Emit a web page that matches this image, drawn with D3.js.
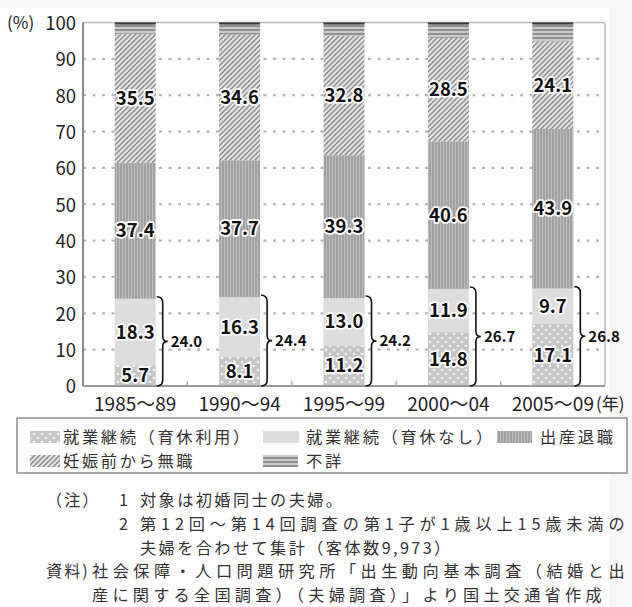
<!DOCTYPE html>
<html lang="ja">
<head>
    <meta charset="UTF-8">
    <title>就業継続</title>
    <script src="https://d3js.org/d3.v7.min.js"></script>
    <style>
        body { margin: 0; background: #ffffff; }
        text { font-family: "Noto Sans CJK JP", sans-serif; }
    </style>
</head>
<body>
    <div id="chart"></div>
    <script>
        // ---- donnees ----
        const periods = ["1985〜89", "1990〜94", "1995〜99", "2000〜04", "2005〜09"];
        const ikukyuRiyou = [5.7, 8.1, 11.2, 14.8, 17.1];      // 就業継続（育休利用）
        const ikukyuNashi = [18.3, 16.3, 13.0, 11.9, 9.7];     // 就業継続（育休なし）
        const shussanTaishoku = [37.4, 37.7, 39.3, 40.6, 43.9]; // 出産退職
        const mushoku = [35.5, 34.6, 32.8, 28.5, 24.1];        // 妊娠前から無職
        const fushou = [3.1, 3.3, 3.7, 4.2, 5.2];              // 不詳
        const keizokuTotal = [24.0, 24.4, 24.2, 26.7, 26.8];   // 就業継続 計
        const yTicks = [0, 10, 20, 30, 40, 50, 60, 70, 80, 90, 100];

        const keys = ["riyou", "nashi", "taishoku", "mushoku", "fushou"];
        const legendNames = {
            riyou: "就業継続（育休利用）",
            nashi: "就業継続（育休なし）",
            taishoku: "出産退職",
            mushoku: "妊娠前から無職",
            fushou: "不詳"
        };
        const notes = [
            ["（注）", "1", "対象は初婚同士の夫婦。"],
            ["", "2", "第12回～第14回調査の第1子が1歳以上15歳未満の"],
            ["", "", "夫婦を合わせて集計（客体数9,973）"],
            ["資料)", "", "社会保障・人口問題研究所「出生動向基本調査（結婚と出"],
            ["", "", "産に関する全国調査）（夫婦調査）」より国土交通省作成"]
        ];

        const rows = periods.map((p, i) => ({
            period: p,
            riyou: ikukyuRiyou[i],
            nashi: ikukyuNashi[i],
            taishoku: shussanTaishoku[i],
            mushoku: mushoku[i],
            fushou: fushou[i],
            total: keizokuTotal[i]
        }));

        const W = 632, H = 607;
        const mLeft = 83, mRight = 605, mTop = 22.5, mBottom = 386;

        const svg = d3.select("#chart").append("svg").attr("width", W).attr("height", H);

        // fond gris clair autour
        svg.append("rect").attr("width", W).attr("height", H).attr("fill", "#f6f6f6");
        svg.append("rect").attr("x", 0).attr("y", 8).attr("width", 609).attr("height", H - 8).attr("fill", "#ffffff");

        // ---- motifs ----
        const defs = svg.append("defs");
        let p = defs.append("pattern").attr("id", "pRiyou").attr("patternUnits", "userSpaceOnUse")
            .attr("width", 8).attr("height", 8);
        p.append("rect").attr("width", 8).attr("height", 8).attr("fill", "#c4c4c4");
        p.append("circle").attr("cx", 2).attr("cy", 2).attr("r", 1.3).attr("fill", "#f4f4f4");
        p.append("circle").attr("cx", 6).attr("cy", 6).attr("r", 1.3).attr("fill", "#f4f4f4");

        p = defs.append("pattern").attr("id", "pNashi").attr("patternUnits", "userSpaceOnUse")
            .attr("width", 4).attr("height", 4);
        p.append("rect").attr("width", 4).attr("height", 4).attr("fill", "#dddddd");

        p = defs.append("pattern").attr("id", "pTaishoku").attr("patternUnits", "userSpaceOnUse")
            .attr("width", 3).attr("height", 3);
        p.append("rect").attr("width", 3).attr("height", 3).attr("fill", "#bdbdbd");
        p.append("line").attr("x1", 1).attr("x2", 1).attr("y1", 0).attr("y2", 3)
            .attr("stroke", "#8a8a8a").attr("stroke-width", 1.1);

        p = defs.append("pattern").attr("id", "pMushoku").attr("patternUnits", "userSpaceOnUse")
            .attr("width", 5).attr("height", 5);
        p.append("rect").attr("width", 5).attr("height", 5).attr("fill", "#e4e4e4");
        p.append("path").attr("d", "M0,5 L5,0 M-1,1 L1,-1 M4,6 L6,4")
            .attr("stroke", "#8a8a8a").attr("stroke-width", 1.4);

        p = defs.append("pattern").attr("id", "pFushou").attr("patternUnits", "userSpaceOnUse")
            .attr("width", 4).attr("height", 4);
        p.append("rect").attr("width", 4).attr("height", 4).attr("fill", "#cacaca");
        p.append("line").attr("x1", 0).attr("x2", 4).attr("y1", 2).attr("y2", 2)
            .attr("stroke", "#777777").attr("stroke-width", 1.4);

        const fills = {
            riyou: "url(#pRiyou)", nashi: "url(#pNashi)", taishoku: "url(#pTaishoku)",
            mushoku: "url(#pMushoku)", fushou: "url(#pFushou)"
        };

        // ---- echelles ----
        const x = d3.scaleBand().domain(periods).range([mLeft, mRight])
            .paddingInner(0.607).paddingOuter(0.3035);
        const y = d3.scaleLinear().domain([0, 100]).range([mBottom, mTop]);

        // fond du graphe + cadre
        svg.append("rect").attr("x", mLeft).attr("y", mTop).attr("width", mRight - mLeft).attr("height", mBottom - mTop)
            .attr("fill", "#ffffff").attr("stroke", "#b8b8b8").attr("stroke-width", 1.5).attr("rx", 2);

        // grille pointillee
        svg.append("g").selectAll("line").data(yTicks.filter(d => d > 0 && d < 100)).join("line")
            .attr("x1", mLeft).attr("x2", mRight)
            .attr("y1", d => y(d)).attr("y2", d => y(d))
            .attr("stroke", "#b4b4b4").attr("stroke-width", 2.2).attr("stroke-dasharray", "3,6.5");

        // ---- barres empilees ----
        const series = d3.stack().keys(keys)(rows);
        svg.append("g").selectAll("g").data(series).join("g")
            .attr("fill", d => fills[d.key])
            .selectAll("rect").data(d => d).join("rect")
            .attr("x", d => x(d.data.period))
            .attr("y", d => y(d[1]))
            .attr("width", x.bandwidth())
            .attr("height", d => y(d[0]) - y(d[1]));

        // trait fonce en haut des barres
        svg.append("g").selectAll("line").data(rows).join("line")
            .attr("x1", d => x(d.period)).attr("x2", d => x(d.period) + x.bandwidth())
            .attr("y1", y(100) + 1).attr("y2", y(100) + 1)
            .attr("stroke", "#3c3c3c").attr("stroke-width", 2);

        // axes
        svg.append("line").attr("x1", mLeft).attr("x2", mLeft).attr("y1", mTop).attr("y2", mBottom)
            .attr("stroke", "#8a8a8a").attr("stroke-width", 2);
        svg.append("line").attr("x1", mLeft).attr("x2", mRight).attr("y1", mBottom).attr("y2", mBottom)
            .attr("stroke", "#9a9a9a").attr("stroke-width", 2);
        // petits tirets entre les barres
        svg.append("g").selectAll("line").data(periods.slice(1)).join("line")
            .attr("x1", d => x(d) - x.step() * x.paddingInner() / 2)
            .attr("x2", d => x(d) - x.step() * x.paddingInner() / 2)
            .attr("y1", mBottom).attr("y2", mBottom - 5)
            .attr("stroke", "#aaaaaa").attr("stroke-width", 1.5);

        // labels axe Y
        svg.append("g").selectAll("text").data(yTicks).join("text")
            .attr("x", 76).attr("y", d => y(d) + 1).attr("dy", "0.35em")
            .attr("text-anchor", "end").attr("font-size", 18.5).attr("fill", "#222")
            .text(d => d);
        svg.append("text").attr("x", 7).attr("y", y(100) + 1).attr("dy", "0.35em")
            .attr("font-size", 17).attr("fill", "#222").text("(%)");

        // labels axe X
        svg.append("g").selectAll("text").data(periods).join("text")
            .attr("x", d => x(d) + x.bandwidth() / 2).attr("y", 404).attr("dy", "0.35em")
            .attr("text-anchor", "middle").attr("font-size", 19).attr("fill", "#222")
            .text(d => d);
        svg.append("text").attr("x", 596).attr("y", 404).attr("dy", "0.35em")
            .attr("font-size", 17).attr("fill", "#222").text("(年)");

        // valeurs dans les barres
        const labels = [];
        series.filter(s => s.key != "fushou").forEach(s => {
            s.forEach(d => labels.push({ period: d.data.period, v: d[1] - d[0], mid: (d[0] + d[1]) / 2 }));
        });
        svg.append("g").selectAll("text").data(labels).join("text")
            .attr("x", d => x(d.period) + x.bandwidth() / 2)
            .attr("y", d => y(d.mid)).attr("dy", "0.36em")
            .attr("text-anchor", "middle").attr("font-size", 18.5).attr("font-weight", "bold")
            .attr("fill", "#111").attr("stroke", "#ffffff").attr("stroke-width", 3.5)
            .attr("stroke-linejoin", "round").attr("paint-order", "stroke")
            .text(d => d.v.toFixed(1));

        // accolades 就業継続
        const brace = svg.append("g");
        rows.forEach(d => {
            const x0 = x(d.period) + x.bandwidth() + 1;
            const yT = y(d.riyou + d.nashi) - 2, yB = y(0);
            const yM = (yT + yB) / 2;
            const path = "M" + x0 + "," + yT +
                " Q" + (x0 + 6) + "," + yT + " " + (x0 + 6) + "," + (yT + 6) +
                " L" + (x0 + 6) + "," + (yM - 5) +
                " Q" + (x0 + 6) + "," + yM + " " + (x0 + 11) + "," + yM +
                " Q" + (x0 + 6) + "," + yM + " " + (x0 + 6) + "," + (yM + 5) +
                " L" + (x0 + 6) + "," + (yB - 6) +
                " Q" + (x0 + 6) + "," + yB + " " + x0 + "," + yB;
            brace.append("path").attr("d", path).attr("fill", "none")
                .attr("stroke", "#111").attr("stroke-width", 1.6);
            brace.append("text").attr("x", x0 + 14).attr("y", yM).attr("dy", "0.36em")
                .attr("font-size", 15).attr("font-weight", "bold").attr("fill", "#111")
                .text(d.total.toFixed(1));
        });

        // ---- legende ----
        svg.append("rect").attr("x", 17).attr("y", 418).attr("width", 610).attr("height", 55)
            .attr("fill", "#ffffff").attr("stroke", "#8c8c8c").attr("stroke-width", 1.5);
        const legendPos = [
            { key: "riyou", sx: 30, sw: 30, tx: 63, cy: 437 },
            { key: "nashi", sx: 263, sw: 36, tx: 306, cy: 437 },
            { key: "taishoku", sx: 497, sw: 35, tx: 540, cy: 437 },
            { key: "mushoku", sx: 30, sw: 30, tx: 63, cy: 461 },
            { key: "fushou", sx: 263, sw: 35, tx: 306, cy: 461 }
        ];
        const lg = svg.append("g").selectAll("g").data(legendPos).join("g");
        lg.append("rect").attr("x", d => d.sx).attr("y", d => d.cy - 6)
            .attr("width", d => d.sw).attr("height", 12).attr("fill", d => fills[d.key]);
        lg.append("text").attr("x", d => d.tx).attr("y", d => d.cy).attr("dy", "0.36em")
            .attr("font-size", 16.3).attr("letter-spacing", 2.6).attr("fill", "#333")
            .text(d => legendNames[d.key]);

        // ---- notes (lignes 2, 4 et 5 justifiees) ----
        const lineY = i => 500.5 + i * 23.7;
        const justify = [0, 487, 0, 535, 512];
        const nt = svg.append("text").attr("font-size", 16.2).attr("fill", "#333");
        notes.forEach((d, i) => {
            if (d[0]) nt.append("tspan").attr("x", 46).attr("y", lineY(i)).attr("dy", "0.36em")
                .attr("letter-spacing", 2).text(d[0]);
            if (d[1]) nt.append("tspan").attr("x", 119).attr("y", lineY(i)).attr("dy", "0.36em").text(d[1]);
            const t = nt.append("tspan").attr("x", i < 3 ? 140 : 92).attr("y", lineY(i)).attr("dy", "0.36em")
                .attr("letter-spacing", 2.4).text(d[2]);
            if (justify[i]) t.attr("textLength", justify[i]).attr("lengthAdjust", "spacing");
        });
    </script>
</body>
</html>
